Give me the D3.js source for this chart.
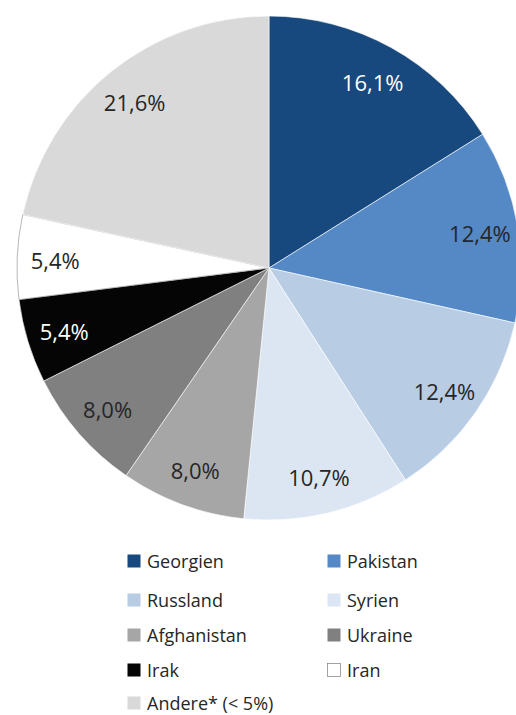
<!DOCTYPE html>
<html>
<head>
<meta charset="utf-8">
<script src="https://cdn.jsdelivr.net/npm/d3@7"></script>
<style>
  html, body { margin: 0; padding: 0; background: #ffffff; }
  svg { display: block; }
  text { font-family: "Open Sans", "Noto Sans", sans-serif; }
</style>
</head>
<body>
<div id="chart"></div>
<script>
const categories = ["Georgien", "Pakistan", "Russland", "Syrien", "Afghanistan", "Ukraine", "Irak", "Iran", "Andere* (< 5%)"];
const values = [16.1, 12.4, 12.4, 10.7, 8.0, 8.0, 5.4, 5.4, 21.6];
const valueLabels = ["16,1%", "12,4%", "12,4%", "10,7%", "8,0%", "8,0%", "5,4%", "5,4%", "21,6%"];
const colors = ["#17497e", "#5589c6", "#b8cce4", "#dce6f2", "#a6a6a6", "#808080", "#050505", "#ffffff", "#d9d9d9"];
const labelColors = ["#ffffff", "#262626", "#262626", "#262626", "#262626", "#262626", "#ffffff", "#262626", "#262626"];

const W = 516, H = 715;
const cx = 269, cy = 268, R = 252;

const svg = d3.select("#chart").append("svg").attr("width", W).attr("height", H);

const data = categories.map((c, i) => ({ name: c, value: values[i], label: valueLabels[i], color: colors[i], lc: labelColors[i] }));

const pie = d3.pie().value(d => d.value).sort(null);
const arcs = pie(data);
const arc = d3.arc().innerRadius(0).outerRadius(R);
const labelArc = d3.arc().innerRadius(214).outerRadius(214);

const g = svg.append("g").attr("transform", `translate(${cx},${cy})`);

g.selectAll("path.slice")
  .data(arcs)
  .join("path")
  .attr("class", "slice")
  .attr("d", arc)
  .attr("fill", d => d.data.color)
  .attr("stroke", d => d.data.color === "#ffffff" ? "#9a9a9a" : "#ffffff")
  .attr("stroke-width", d => d.data.color === "#ffffff" ? 0.7 : 0.6);

g.selectAll("text.lbl")
  .data(arcs)
  .join("text")
  .attr("class", "lbl")
  .attr("transform", d => { const c = labelArc.centroid(d); return `translate(${c[0]},${c[1] + 2})`; })
  .attr("text-anchor", "middle")
  .attr("dy", "0.36em")
  .attr("font-size", 22)
  .attr("fill", d => d.data.lc)
  .text(d => d.data.label);

// Legend
const legendCols = [127, 327];
const legendRows = [568, 607, 642, 677, 710];
const legend = svg.append("g");
data.forEach((d, i) => {
  const col = i % 2, row = Math.floor(i / 2);
  const x = legendCols[col], y = legendRows[row];
  legend.append("rect")
    .attr("x", x + 0.5).attr("y", y - 13.5)
    .attr("width", 13).attr("height", 13)
    .attr("fill", d.color)
    .attr("stroke", d.color === "#ffffff" ? "#8c8c8c" : "none")
    .attr("stroke-width", 0.8);
  legend.append("text")
    .attr("x", x + 20).attr("y", y)
    .attr("font-size", 18)
    .attr("fill", "#262626")
    .text(d.name);
});
</script>
</body>
</html>
